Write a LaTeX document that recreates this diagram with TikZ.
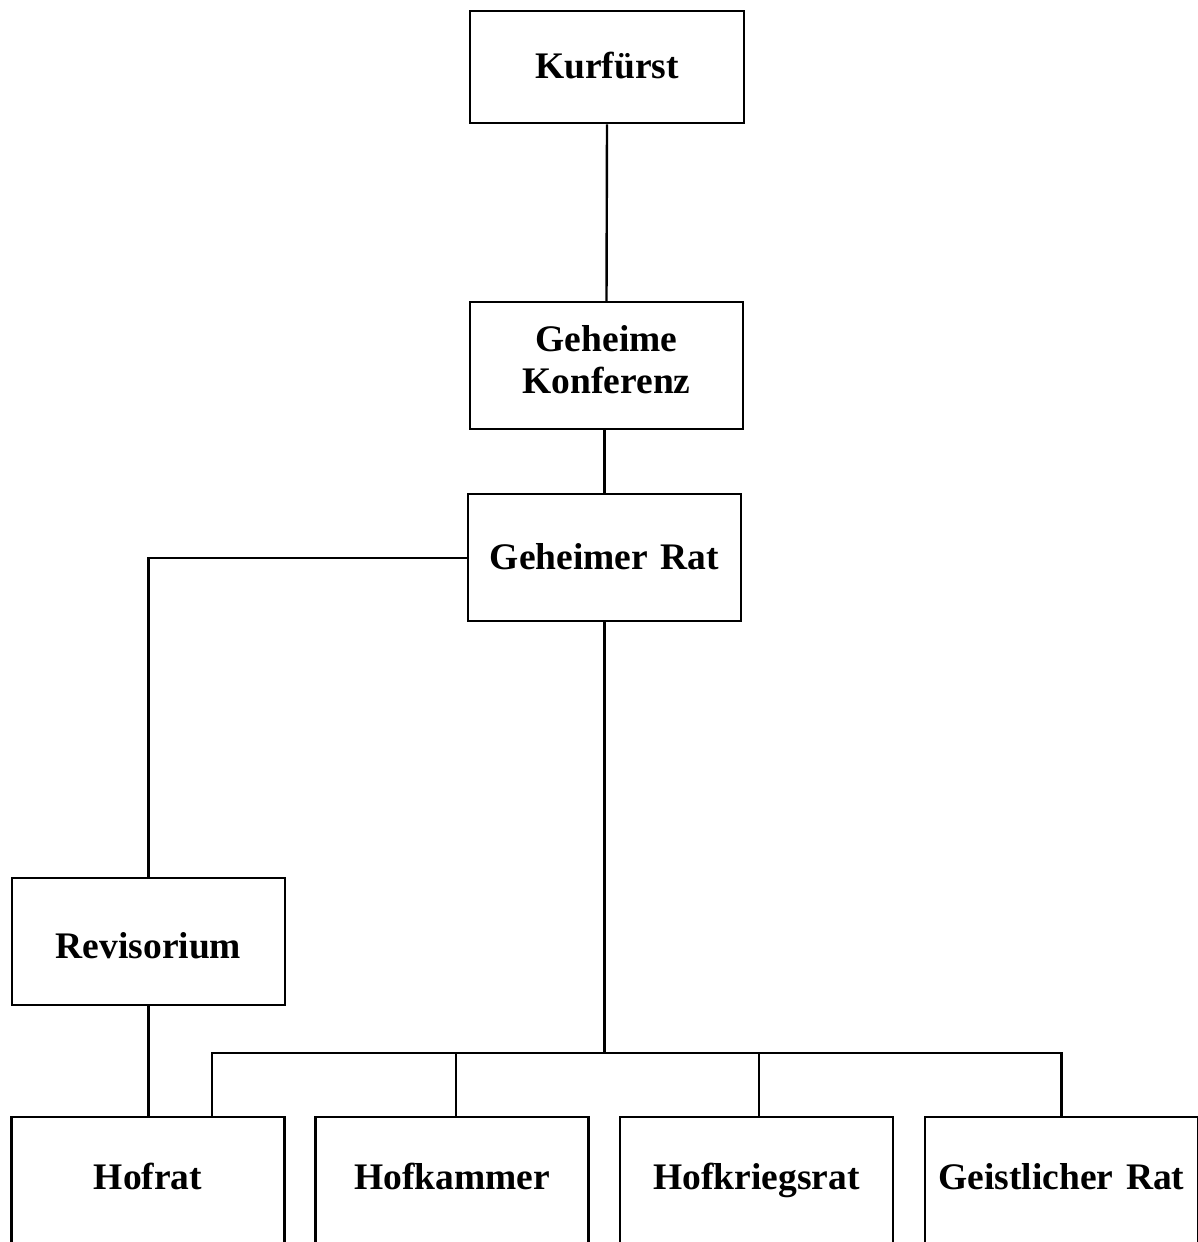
\documentclass[tikz,border=0pt]{standalone}
\usepackage{fontspec}
\setmainfont{Liberation Serif}
\begin{document}
\tikzset{
  orgbox/.style={draw, line width=2.4pt, inner sep=0pt, text width=273pt, align=center,
    font=\bfseries\fontsize{37.5}{42}\selectfont, anchor=north},
  conn/.style={line width=2.4pt}
}
\begin{tikzpicture}[x=1pt,y=-1pt]
\useasboundingbox (0,0) rectangle (1197,1242);
% upper boxes
\node[orgbox, text width=274pt, text height=67pt, text depth=45pt] (kur) at (607,10) {Kurfürst};
\node[orgbox, text height=49pt, text depth=78pt] (konf) at (606.5,301) {Geheime\\Konferenz};
\node[orgbox, text height=75pt, text depth=52pt] (rat) at (604.5,493) {Geheimer Rat};
\node[orgbox, text height=80pt, text depth=47pt] (rev) at (148.5,877) {Revisorium};
% bottom boxes (cut off by the page edge)
\node[orgbox, text height=72pt, text depth=80pt] (hof) at (148,1116) {Hofrat};
\node[orgbox, text height=72pt, text depth=80pt] (kam) at (452,1116) {Hofkammer};
\node[orgbox, text height=72pt, text depth=80pt] (krieg) at (756.5,1116) {Hofkriegsrat};
\node[orgbox, text height=72pt, text depth=80pt] (geist) at (1061.5,1116) {Geistlicher Rat};
% connectors
\coordinate (j) at (604.5,1053);
\draw[conn] (kur.south) -- (konf.north);
\draw[conn] (rat.north |- konf.south) -- (rat.north);
\draw[conn] (rat.west) -| (rev.north);
\draw[conn] (rev.south) -- (rev.south |- hof.north);
\draw[conn] (rat.south) -- (j);
\draw[conn] ([xshift=64pt]hof.north) |- (geist.north |- j) -- (geist.north);
\draw[conn] ([xshift=4pt]kam.north) -- ([xshift=4pt]kam.north |- j);
\draw[conn] ([xshift=2.5pt]krieg.north) -- ([xshift=2.5pt]krieg.north |- j);
\end{tikzpicture}
\end{document}
